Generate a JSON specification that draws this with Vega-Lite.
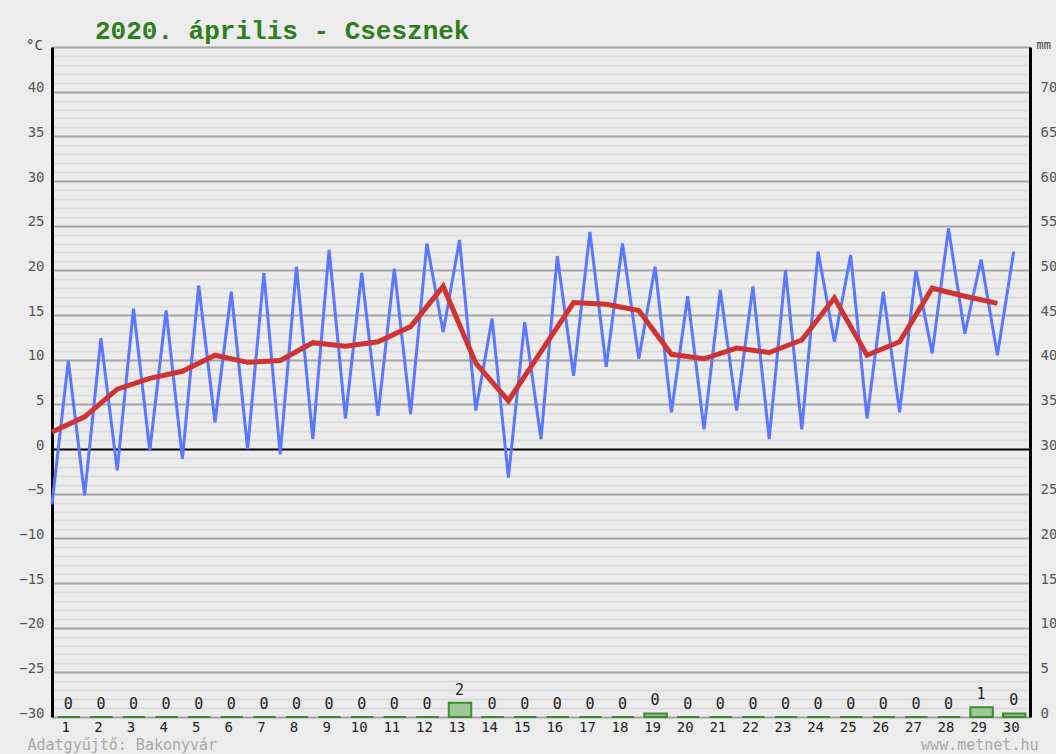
{
  "$schema": "https://vega.github.io/schema/vega-lite/v6.json",
  "width": 978,
  "height": 670,
  "autosize": {"type": "none"},
  "padding": {"left": 52, "top": 47, "right": 26, "bottom": 37},
  "background": "#ececec",
  "config": {"view": {"stroke": null, "fill": "#ececec"}, "font": "DejaVu Sans Mono"},
  "title": {
    "text": "2020. április - Csesznek",
    "anchor": "start",
    "frame": "group",
    "dx": 43,
    "dy": 10,
    "offset": 4,
    "font": "Liberation Mono",
    "fontSize": 26,
    "fontWeight": "bold",
    "color": "#2e7d20"
  },
  "datasets": {
    "readings": [
      {"time": "2020-04-01T00:00", "temp": -6.2}, {"time": "2020-04-01T12:00", "temp": 9.9},
      {"time": "2020-04-02T00:00", "temp": -5.2}, {"time": "2020-04-02T12:00", "temp": 12.4},
      {"time": "2020-04-03T00:00", "temp": -2.4}, {"time": "2020-04-03T12:00", "temp": 15.7},
      {"time": "2020-04-04T00:00", "temp": -0.2}, {"time": "2020-04-04T12:00", "temp": 15.5},
      {"time": "2020-04-05T00:00", "temp": -1.1}, {"time": "2020-04-05T12:00", "temp": 18.3},
      {"time": "2020-04-06T00:00", "temp": 3.0}, {"time": "2020-04-06T12:00", "temp": 17.6},
      {"time": "2020-04-07T00:00", "temp": 0.0}, {"time": "2020-04-07T12:00", "temp": 19.7},
      {"time": "2020-04-08T00:00", "temp": -0.6}, {"time": "2020-04-08T12:00", "temp": 20.4},
      {"time": "2020-04-09T00:00", "temp": 1.1}, {"time": "2020-04-09T12:00", "temp": 22.3},
      {"time": "2020-04-10T00:00", "temp": 3.4}, {"time": "2020-04-10T12:00", "temp": 19.7},
      {"time": "2020-04-11T00:00", "temp": 3.7}, {"time": "2020-04-11T12:00", "temp": 20.2},
      {"time": "2020-04-12T00:00", "temp": 3.9}, {"time": "2020-04-12T12:00", "temp": 23.0},
      {"time": "2020-04-13T00:00", "temp": 13.1}, {"time": "2020-04-13T12:00", "temp": 23.4},
      {"time": "2020-04-14T00:00", "temp": 4.3}, {"time": "2020-04-14T12:00", "temp": 14.6},
      {"time": "2020-04-15T00:00", "temp": -3.2}, {"time": "2020-04-15T12:00", "temp": 14.2},
      {"time": "2020-04-16T00:00", "temp": 1.1}, {"time": "2020-04-16T12:00", "temp": 21.6},
      {"time": "2020-04-17T00:00", "temp": 8.2}, {"time": "2020-04-17T12:00", "temp": 24.3},
      {"time": "2020-04-18T00:00", "temp": 9.2}, {"time": "2020-04-18T12:00", "temp": 23.0},
      {"time": "2020-04-19T00:00", "temp": 10.1}, {"time": "2020-04-19T12:00", "temp": 20.4},
      {"time": "2020-04-20T00:00", "temp": 4.1}, {"time": "2020-04-20T12:00", "temp": 17.1},
      {"time": "2020-04-21T00:00", "temp": 2.2}, {"time": "2020-04-21T12:00", "temp": 17.8},
      {"time": "2020-04-22T00:00", "temp": 4.3}, {"time": "2020-04-22T12:00", "temp": 18.2},
      {"time": "2020-04-23T00:00", "temp": 1.1}, {"time": "2020-04-23T12:00", "temp": 20.0},
      {"time": "2020-04-24T00:00", "temp": 2.2}, {"time": "2020-04-24T12:00", "temp": 22.1},
      {"time": "2020-04-25T00:00", "temp": 12.0}, {"time": "2020-04-25T12:00", "temp": 21.7},
      {"time": "2020-04-26T00:00", "temp": 3.4}, {"time": "2020-04-26T12:00", "temp": 17.6},
      {"time": "2020-04-27T00:00", "temp": 4.1}, {"time": "2020-04-27T12:00", "temp": 20.0},
      {"time": "2020-04-28T00:00", "temp": 10.7}, {"time": "2020-04-28T12:00", "temp": 24.7},
      {"time": "2020-04-29T00:00", "temp": 12.9}, {"time": "2020-04-29T12:00", "temp": 21.2},
      {"time": "2020-04-30T00:00", "temp": 10.5}, {"time": "2020-04-30T12:00", "temp": 22.1}
    ],
    "daily": [
      {"date": "2020-04-01T00:00", "mean": 1.9, "rain": 0},
      {"date": "2020-04-02T00:00", "mean": 3.6, "rain": 0},
      {"date": "2020-04-03T00:00", "mean": 6.7, "rain": 0},
      {"date": "2020-04-04T00:00", "mean": 7.9, "rain": 0},
      {"date": "2020-04-05T00:00", "mean": 8.7, "rain": 0},
      {"date": "2020-04-06T00:00", "mean": 10.5, "rain": 0},
      {"date": "2020-04-07T00:00", "mean": 9.7, "rain": 0},
      {"date": "2020-04-08T00:00", "mean": 9.9, "rain": 0},
      {"date": "2020-04-09T00:00", "mean": 11.9, "rain": 0},
      {"date": "2020-04-10T00:00", "mean": 11.5, "rain": 0},
      {"date": "2020-04-11T00:00", "mean": 12.0, "rain": 0},
      {"date": "2020-04-12T00:00", "mean": 13.7, "rain": 0},
      {"date": "2020-04-13T00:00", "mean": 18.2, "rain": 1.6},
      {"date": "2020-04-14T00:00", "mean": 9.6, "rain": 0},
      {"date": "2020-04-15T00:00", "mean": 5.4, "rain": 0},
      {"date": "2020-04-16T00:00", "mean": 10.9, "rain": 0},
      {"date": "2020-04-17T00:00", "mean": 16.4, "rain": 0},
      {"date": "2020-04-18T00:00", "mean": 16.2, "rain": 0},
      {"date": "2020-04-19T00:00", "mean": 15.5, "rain": 0.4},
      {"date": "2020-04-20T00:00", "mean": 10.6, "rain": 0},
      {"date": "2020-04-21T00:00", "mean": 10.1, "rain": 0},
      {"date": "2020-04-22T00:00", "mean": 11.3, "rain": 0},
      {"date": "2020-04-23T00:00", "mean": 10.8, "rain": 0},
      {"date": "2020-04-24T00:00", "mean": 12.2, "rain": 0},
      {"date": "2020-04-25T00:00", "mean": 16.9, "rain": 0},
      {"date": "2020-04-26T00:00", "mean": 10.5, "rain": 0},
      {"date": "2020-04-27T00:00", "mean": 12.0, "rain": 0},
      {"date": "2020-04-28T00:00", "mean": 18.0, "rain": 0},
      {"date": "2020-04-29T00:00", "mean": 17.1, "rain": 1.1},
      {"date": "2020-04-30T00:00", "mean": 16.3, "rain": 0.4}
    ]
  },
  "layer": [
    {
      "data": {"name": "readings"},
      "mark": {"type": "line", "color": "#5a78ff", "strokeWidth": 3},
      "encoding": {
        "x": {
          "field": "time", "type": "temporal",
          "scale": {"domain": [{"year": 2020, "month": 4, "date": 1}, {"year": 2020, "month": 5, "date": 1}]},
          "axis": {
            "orient": "bottom",
            "values": [
              {"year": 2020, "month": 4, "date": 1, "hours": 12}, {"year": 2020, "month": 4, "date": 2, "hours": 12},
              {"year": 2020, "month": 4, "date": 3, "hours": 12}, {"year": 2020, "month": 4, "date": 4, "hours": 12},
              {"year": 2020, "month": 4, "date": 5, "hours": 12}, {"year": 2020, "month": 4, "date": 6, "hours": 12},
              {"year": 2020, "month": 4, "date": 7, "hours": 12}, {"year": 2020, "month": 4, "date": 8, "hours": 12},
              {"year": 2020, "month": 4, "date": 9, "hours": 12}, {"year": 2020, "month": 4, "date": 10, "hours": 12},
              {"year": 2020, "month": 4, "date": 11, "hours": 12}, {"year": 2020, "month": 4, "date": 12, "hours": 12},
              {"year": 2020, "month": 4, "date": 13, "hours": 12}, {"year": 2020, "month": 4, "date": 14, "hours": 12},
              {"year": 2020, "month": 4, "date": 15, "hours": 12}, {"year": 2020, "month": 4, "date": 16, "hours": 12},
              {"year": 2020, "month": 4, "date": 17, "hours": 12}, {"year": 2020, "month": 4, "date": 18, "hours": 12},
              {"year": 2020, "month": 4, "date": 19, "hours": 12}, {"year": 2020, "month": 4, "date": 20, "hours": 12},
              {"year": 2020, "month": 4, "date": 21, "hours": 12}, {"year": 2020, "month": 4, "date": 22, "hours": 12},
              {"year": 2020, "month": 4, "date": 23, "hours": 12}, {"year": 2020, "month": 4, "date": 24, "hours": 12},
              {"year": 2020, "month": 4, "date": 25, "hours": 12}, {"year": 2020, "month": 4, "date": 26, "hours": 12},
              {"year": 2020, "month": 4, "date": 27, "hours": 12}, {"year": 2020, "month": 4, "date": 28, "hours": 12},
              {"year": 2020, "month": 4, "date": 29, "hours": 12}, {"year": 2020, "month": 4, "date": 30, "hours": 12}
            ],
            "format": "%-d",
            "labelFont": "DejaVu Sans Mono",
            "labelFontSize": 14,
            "labelColor": "#222222",
            "labelBaseline": "top",
            "labelPadding": 3,
            "labelOffset": -3,
            "labelOverlap": false,
            "labelFlush": false,
            "ticks": false,
            "domain": false,
            "grid": false,
            "title": "Adatgyűjtő: Bakonyvár",
            "titleFont": "DejaVu Sans Mono",
            "titleFontSize": 15,
            "titleFontWeight": "normal",
            "titleColor": "#a8a8a8",
            "titleAnchor": "start",
            "titleAlign": "left",
            "titleBaseline": "alphabetic",
            "titleX": -25,
            "titleY": 32
          }
        },
        "y": {
          "field": "temp", "type": "quantitative",
          "scale": {"domain": [-30, 45], "nice": false, "zero": false},
          "axis": {
            "orient": "left",
            "values": [-29,-28,-27,-26,-24,-23,-22,-21,-19,-18,-17,-16,-14,-13,-12,-11,-9,-8,-7,-6,-4,-3,-2,-1,1,2,3,4,6,7,8,9,11,12,13,14,16,17,18,19,21,22,23,24,26,27,28,29,31,32,33,34,36,37,38,39,41,42,43,44],
            "labels": false,
            "ticks": false,
            "domain": false,
            "grid": true,
            "gridColor": "#dcdcdc",
            "gridWidth": 2,
            "title": null
          }
        }
      }
    },
    {
      "data": {"name": "daily"},
      "mark": {"type": "line", "color": "#cf3434", "strokeWidth": 5},
      "encoding": {
        "x": {
          "field": "date", "type": "temporal",
          "axis": {
            "orient": "bottom",
            "labels": false,
            "ticks": false,
            "domain": false,
            "grid": false,
            "title": "www.metnet.hu",
            "titleFont": "DejaVu Sans Mono",
            "titleFontSize": 15,
            "titleFontWeight": "normal",
            "titleColor": "#a8a8a8",
            "titleAnchor": "end",
            "titleAlign": "right",
            "titleBaseline": "alphabetic",
            "titleX": 986,
            "titleY": 32
          }
        },
        "y": {
          "field": "mean", "type": "quantitative",
          "scale": {"domain": [-30, 45], "nice": false, "zero": false},
          "axis": {
            "orient": "left",
            "values": [-30,-25,-20,-15,-10,-5,0,5,10,15,20,25,30,35,40,45],
            "labelExpr": "datum.value == 45 ? '' : datum.label",
            "labelFont": "DejaVu Sans Mono",
            "labelFontSize": 14,
            "labelColor": "#555555",
            "labelBaseline": "alphabetic",
            "labelPadding": 8,
            "ticks": false,
            "domain": true,
            "domainColor": "#000000",
            "domainWidth": 3,
            "grid": true,
            "gridColor": {"condition": {"test": "datum.value === 0", "value": "#000000"}, "value": "#a4a4a4"},
            "gridWidth": 2,
            "title": "°C",
            "titleFont": "DejaVu Sans Mono",
            "titleFontSize": 14,
            "titleFontWeight": "normal",
            "titleColor": "#444444",
            "titleAngle": 0,
            "titleAlign": "center",
            "titleBaseline": "alphabetic",
            "titleX": -18,
            "titleY": 2
          }
        }
      }
    },
    {
      "data": {"name": "daily"},
      "mark": {"type": "bar", "fill": "#9cc898", "stroke": "#3d8a30", "strokeWidth": 2, "width": {"band": 0.72}},
      "encoding": {
        "x": {"field": "date", "type": "temporal", "timeUnit": "yearmonthdate", "axis": null},
        "y": {
          "field": "rain", "type": "quantitative",
          "scale": {"domain": [0, 75], "nice": false},
          "axis": {
            "orient": "right",
            "values": [0,5,10,15,20,25,30,35,40,45,50,55,60,65,70],
            "labelFont": "DejaVu Sans Mono",
            "labelFontSize": 14,
            "labelColor": "#555555",
            "labelBaseline": "alphabetic",
            "labelPadding": 10,
            "ticks": false,
            "domain": true,
            "domainColor": "#000000",
            "domainWidth": 3,
            "grid": false,
            "title": "mm",
            "titleFont": "DejaVu Sans Mono",
            "titleFontSize": 12,
            "titleFontWeight": "normal",
            "titleColor": "#444444",
            "titleAngle": 0,
            "titleAlign": "left",
            "titleBaseline": "alphabetic",
            "titleX": 6,
            "titleY": 1
          }
        }
      }
    },
    {
      "data": {"name": "daily"},
      "mark": {"type": "text", "baseline": "bottom", "dy": -5, "font": "DejaVu Sans Mono", "fontSize": 15, "color": "#222222"},
      "encoding": {
        "x": {"field": "date", "type": "temporal", "timeUnit": "yearmonthdate", "bandPosition": 0.5, "axis": null},
        "y": {"field": "rain", "type": "quantitative", "scale": {"domain": [0, 75], "nice": false}, "axis": null},
        "text": {"field": "rain", "type": "quantitative", "format": ".0f"}
      }
    }
  ],
  "resolve": {"scale": {"y": "independent"}, "axis": {"x": "independent", "y": "independent"}}
}
